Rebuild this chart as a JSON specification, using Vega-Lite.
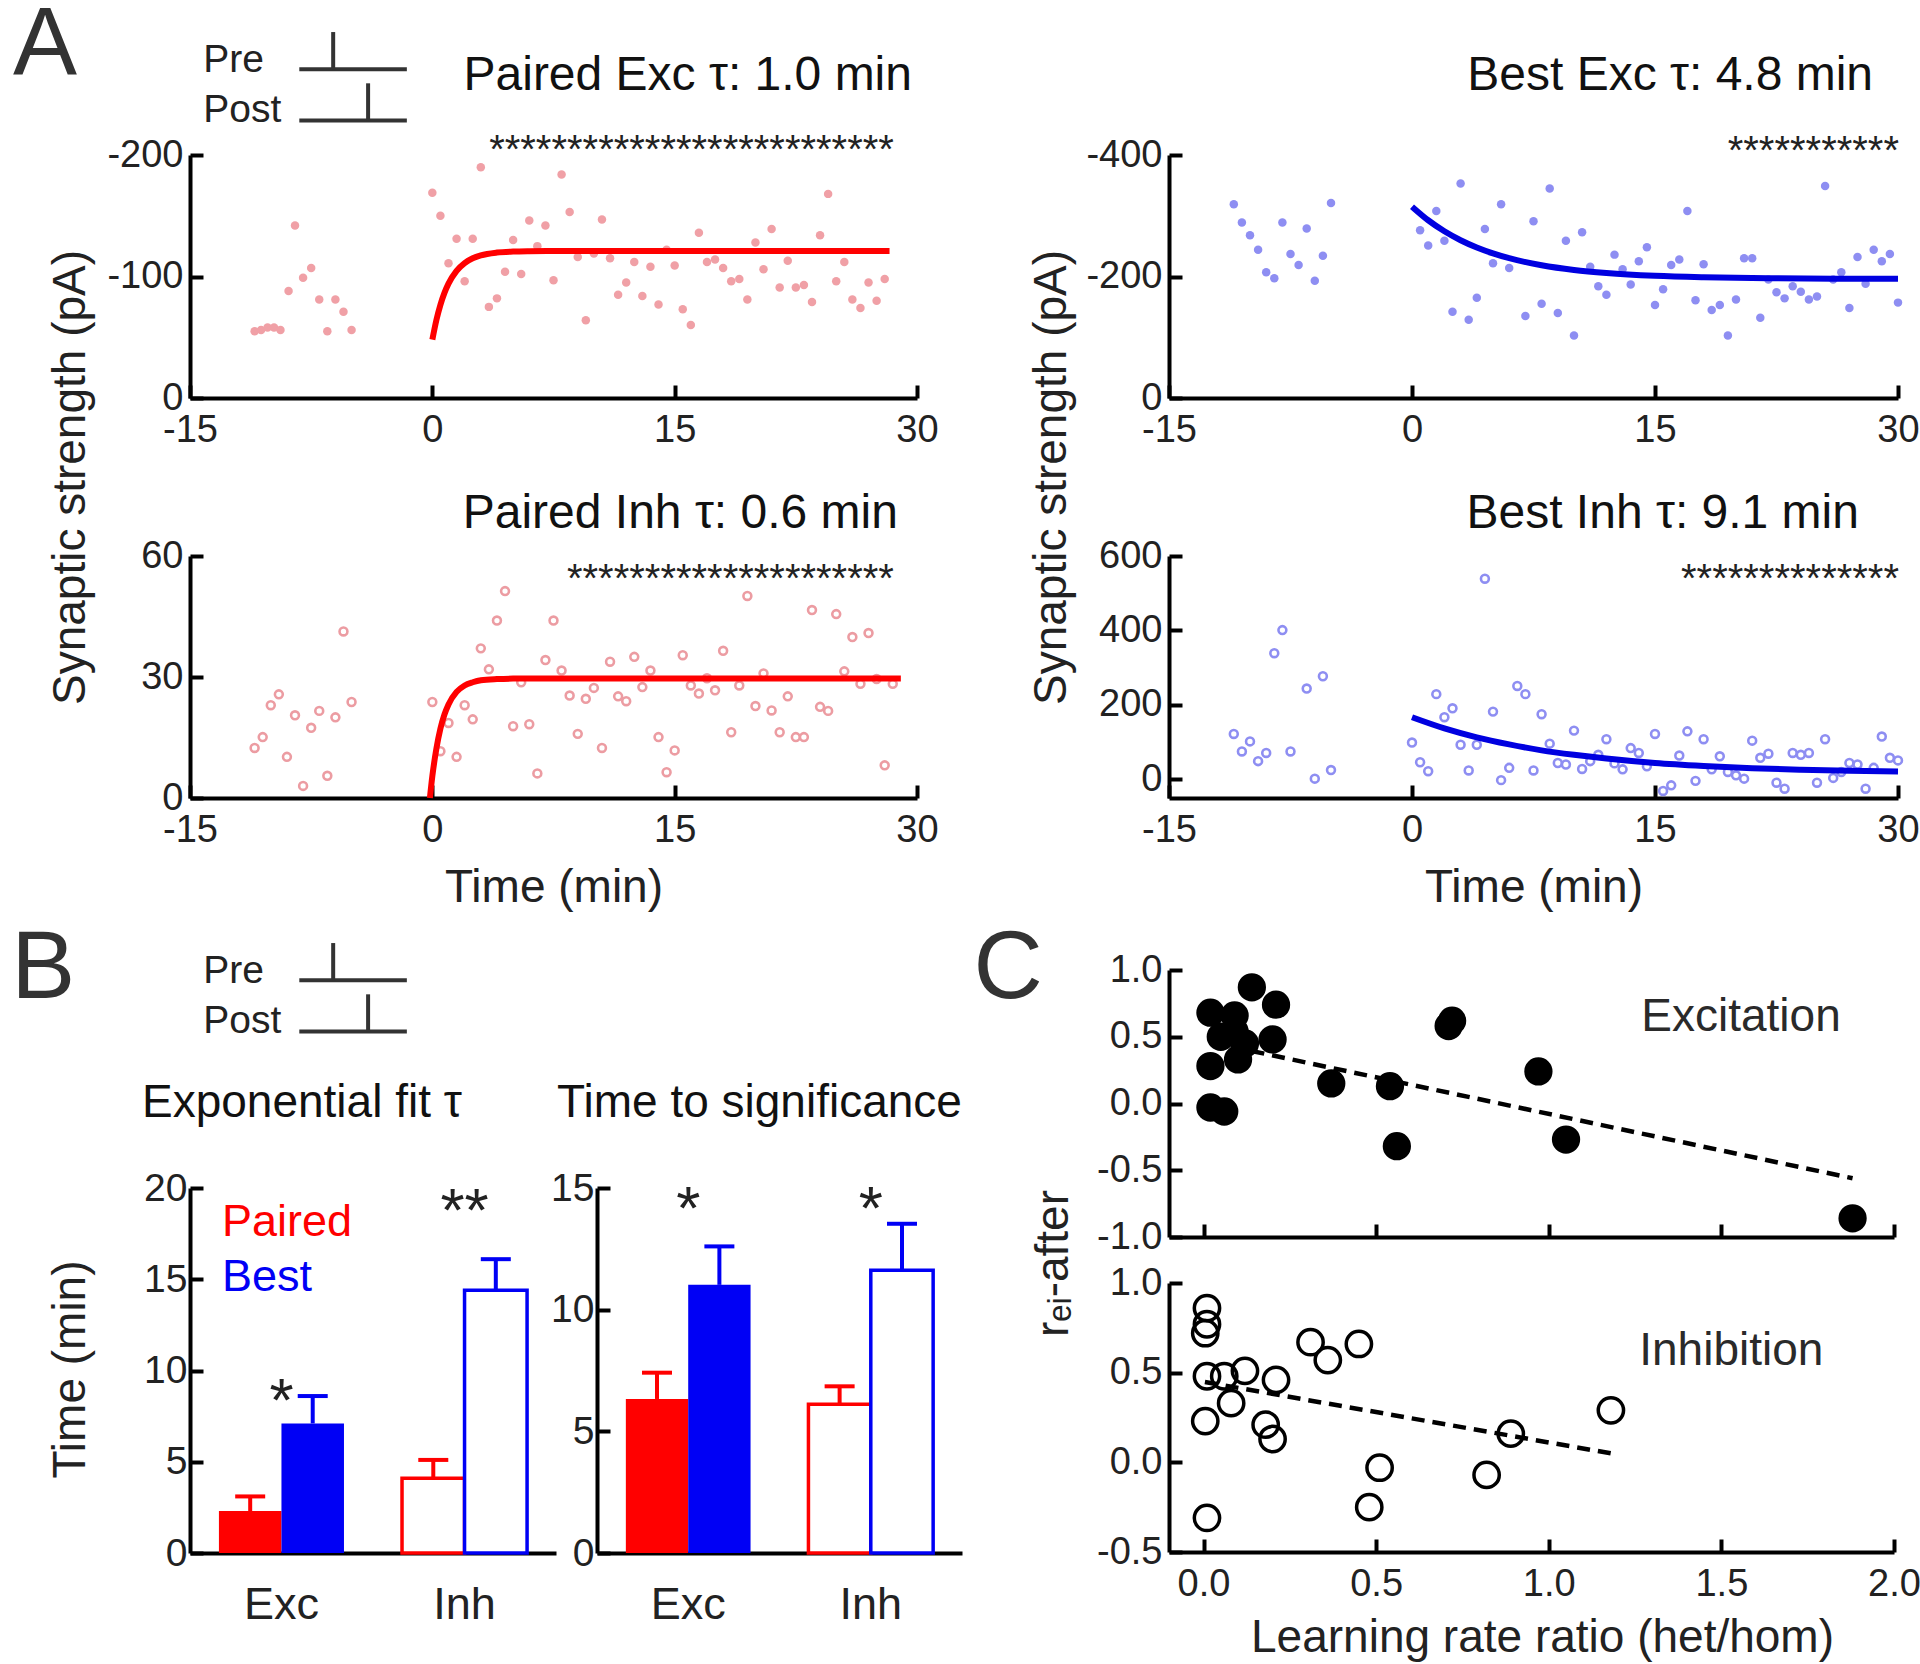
{
  "$schema": "https://vega.github.io/schema/vega-lite/v6.json",
  "width": 1920,
  "height": 1664,
  "autosize": {"type": "none"},
  "padding": 0,
  "background": "white",
  "config": {
    "font": "Liberation Sans",
    "view": {"stroke": null},
    "axis": {"grid": false, "domainColor": "#000", "domainWidth": 4, "tickColor": "#000", "tickWidth": 4, "tickSize": -13, "labelFontSize": 38, "labelColor": "#222", "labelFont": "Liberation Sans", "labelFlush": false, "labelOverlap": false, "titleFont": "Liberation Sans", "titleFontSize": 46, "titleFontWeight": "normal", "titleColor": "#222"},
    "axisX": {"labelPadding": 26, "titleAngle": 0, "titleAlign": "center", "titleBaseline": "alphabetic"},
    "axisY": {"labelPadding": 20, "titleAngle": 270, "titleAlign": "center", "titleBaseline": "alphabetic"},
    "text": {"font": "Liberation Sans"}
  },
  "datasets": {
    "sketch": [
      {"trace": "Pre", "t": -9.7, "t2": 21.1, "v": 1.5, "v2": 1.5},
      {"trace": "Pre", "t": 0, "t2": 0, "v": 1.5, "v2": 2.59},
      {"trace": "Post", "t": -9.7, "t2": 21.1, "v": 0, "v2": 0},
      {"trace": "Post", "t": 10, "t2": 10, "v": 0, "v2": 1.09}
    ],
    "sketchlab": [
      {"trace": "Pre", "t": -37.2, "v": 1.42},
      {"trace": "Post", "t": -37.2, "v": -0.04}
    ],
    "a1": [
      {"t":-11,"v":-55},{"t":-10.6,"v":-56},{"t":-10.2,"v":-58},{"t":-9.8,"v":-58},{"t":-9.4,"v":-56},{"t":-8.9,"v":-88},{"t":-8.5,"v":-142},{"t":-8,"v":-99},{"t":-7.5,"v":-107},{"t":-7,"v":-81},{"t":-6.5,"v":-55},{"t":-6,"v":-81},{"t":-5.5,"v":-71},{"t":-5,"v":-56},
      {"t":0,"v":-169},{"t":0.5,"v":-150},{"t":1,"v":-111},{"t":1.5,"v":-131},{"t":2,"v":-96},{"t":2.5,"v":-131},{"t":3,"v":-190},{"t":3.5,"v":-75},{"t":4,"v":-82},{"t":4.5,"v":-104},{"t":5,"v":-130},{"t":5.5,"v":-102},{"t":6,"v":-146},{"t":6.5,"v":-125},{"t":7,"v":-142},{"t":7.5,"v":-97},{"t":8,"v":-184},{"t":8.5,"v":-153},{"t":9,"v":-116},{"t":9.5,"v":-64},{"t":10,"v":-119},{"t":10.5,"v":-147},{"t":11,"v":-115},{"t":11.5,"v":-85},{"t":12,"v":-95},{"t":12.5,"v":-112},{"t":13,"v":-84},{"t":13.5,"v":-108},{"t":14,"v":-77},{"t":14.5,"v":-122},{"t":15,"v":-109},{"t":15.5,"v":-73},{"t":16,"v":-60},{"t":16.5,"v":-136},{"t":17,"v":-112},{"t":17.5,"v":-114},{"t":18,"v":-107},{"t":18.5,"v":-96},{"t":19,"v":-98},{"t":19.5,"v":-81},{"t":20,"v":-128},{"t":20.5,"v":-106},{"t":21,"v":-139},{"t":21.5,"v":-91},{"t":22,"v":-113},{"t":22.5,"v":-91},{"t":23,"v":-93},{"t":23.5,"v":-79},{"t":24,"v":-134},{"t":24.5,"v":-168},{"t":25,"v":-96},{"t":25.5,"v":-112},{"t":26,"v":-81},{"t":26.5,"v":-74},{"t":27,"v":-95},{"t":27.5,"v":-80},{"t":28,"v":-98}
    ],
    "a1fit": [
      {"t":0,"v":-48},{"t":0.25,"v":-64.1},{"t":0.5,"v":-76.7},{"t":0.75,"v":-86.5},{"t":1,"v":-94.1},{"t":1.5,"v":-104.7},{"t":2,"v":-111.1},{"t":2.5,"v":-115},{"t":3,"v":-117.4},{"t":4,"v":-119.7},{"t":5,"v":-120.5},{"t":6,"v":-120.8},{"t":8,"v":-121},{"t":28.3,"v":-121}
    ],
    "a2": [
      {"t":-11,"v":-319},{"t":-10.5,"v":-289},{"t":-10,"v":-268},{"t":-9.5,"v":-244},{"t":-9,"v":-207},{"t":-8.5,"v":-197},{"t":-8,"v":-289},{"t":-7.5,"v":-237},{"t":-7,"v":-219},{"t":-6.5,"v":-279},{"t":-6,"v":-193},{"t":-5.5,"v":-234},{"t":-5,"v":-321},
      {"t":0.5,"v":-276},{"t":1,"v":-251},{"t":1.5,"v":-308},{"t":2,"v":-259},{"t":2.5,"v":-142},{"t":3,"v":-353},{"t":3.5,"v":-129},{"t":4,"v":-165},{"t":4.5,"v":-278},{"t":5,"v":-222},{"t":5.5,"v":-319},{"t":6,"v":-214},{"t":7,"v":-135},{"t":7.5,"v":-291},{"t":8,"v":-155},{"t":8.5,"v":-345},{"t":9,"v":-140},{"t":9.5,"v":-259},{"t":10,"v":-103},{"t":10.5,"v":-273},{"t":11,"v":-216},{"t":11.5,"v":-184},{"t":12,"v":-170},{"t":12.5,"v":-236},{"t":13,"v":-212},{"t":13.5,"v":-187},{"t":14,"v":-225},{"t":14.5,"v":-248},{"t":15,"v":-153},{"t":15.5,"v":-179},{"t":16,"v":-219},{"t":16.5,"v":-228},{"t":17,"v":-308},{"t":17.5,"v":-161},{"t":18,"v":-220},{"t":18.5,"v":-145},{"t":19,"v":-153},{"t":19.5,"v":-103},{"t":20,"v":-162},{"t":20.5,"v":-230},{"t":21,"v":-230},{"t":21.5,"v":-132},{"t":22,"v":-195},{"t":22.5,"v":-174},{"t":23,"v":-164},{"t":23.5,"v":-184},{"t":24,"v":-175},{"t":24.5,"v":-162},{"t":25,"v":-167},{"t":25.5,"v":-349},{"t":26,"v":-195},{"t":26.5,"v":-207},{"t":27,"v":-148},{"t":27.5,"v":-232},{"t":28,"v":-188},{"t":28.5,"v":-244},{"t":29,"v":-225},{"t":29.5,"v":-237},{"t":30,"v":-157}
    ],
    "a2fit": [
      {"t":0,"v":-315},{"t":1,"v":-292.6},{"t":2,"v":-274.4},{"t":3,"v":-259.7},{"t":4,"v":-247.7},{"t":5,"v":-238},{"t":6,"v":-230.1},{"t":8,"v":-218.5},{"t":10,"v":-210.8},{"t":12,"v":-205.8},{"t":15,"v":-201.2},{"t":18,"v":-198.8},{"t":22,"v":-197.2},{"t":26,"v":-196.5},{"t":30,"v":-196.3}
    ],
    "a3": [
      {"t":-11,"v":12.4},{"t":-10.5,"v":15.1},{"t":-10,"v":23},{"t":-9.5,"v":25.7},{"t":-9,"v":10.2},{"t":-8.5,"v":20.5},{"t":-8,"v":3},{"t":-7.5,"v":17.4},{"t":-7,"v":21.6},{"t":-6.5,"v":5.5},{"t":-6,"v":20},{"t":-5.5,"v":41.3},{"t":-5,"v":23.8},
      {"t":0,"v":23.8},{"t":0.5,"v":11.6},{"t":1,"v":18.6},{"t":1.5,"v":10.2},{"t":2,"v":23},{"t":2.5,"v":19.5},{"t":3,"v":37.1},{"t":3.5,"v":31.9},{"t":4,"v":44},{"t":4.5,"v":51.3},{"t":5,"v":17.8},{"t":5.5,"v":28.7},{"t":6,"v":18.3},{"t":6.5,"v":6.1},{"t":7,"v":34.2},{"t":7.5,"v":44},{"t":8,"v":31.6},{"t":8.5,"v":25.4},{"t":9,"v":15.9},{"t":9.5,"v":24.6},{"t":10,"v":27.3},{"t":10.5,"v":12.4},{"t":11,"v":33.8},{"t":11.5,"v":25.2},{"t":12,"v":24},{"t":12.5,"v":35},{"t":13,"v":27.5},{"t":13.5,"v":31.6},{"t":14,"v":15.1},{"t":14.5,"v":6.4},{"t":15,"v":11.8},{"t":15.5,"v":35.4},{"t":16,"v":27.9},{"t":16.5,"v":25.9},{"t":17,"v":29.7},{"t":17.5,"v":26.7},{"t":18,"v":36.5},{"t":18.5,"v":16.3},{"t":19,"v":27.9},{"t":19.5,"v":50.1},{"t":20,"v":22.8},{"t":20.5,"v":30.9},{"t":21,"v":21.7},{"t":21.5,"v":16.3},{"t":22,"v":25.2},{"t":22.5,"v":15.1},{"t":23,"v":15.1},{"t":23.5,"v":46.6},{"t":24,"v":22.6},{"t":24.5,"v":21.6},{"t":25,"v":45.6},{"t":25.5,"v":31.4},{"t":26,"v":39.9},{"t":26.5,"v":28.3},{"t":27,"v":40.9},{"t":27.5,"v":29.5},{"t":28,"v":8.1},{"t":28.5,"v":28.3}
    ],
    "a3fit": [
      {"t":-0.15,"v":0},{"t":0,"v":5.4},{"t":0.25,"v":12.2},{"t":0.5,"v":17.2},{"t":0.75,"v":20.7},{"t":1,"v":23.2},{"t":1.5,"v":26.3},{"t":2,"v":27.9},{"t":2.5,"v":28.7},{"t":3,"v":29.2},{"t":4,"v":29.5},{"t":5,"v":29.6},{"t":29,"v":29.6}
    ],
    "a4": [
      {"t":-11,"v":122},{"t":-10.5,"v":75},{"t":-10,"v":102},{"t":-9.5,"v":49},{"t":-9,"v":71},{"t":-8.5,"v":339},{"t":-8,"v":401},{"t":-7.5,"v":75},{"t":-6.5,"v":244},{"t":-6,"v":2},{"t":-5.5,"v":277},{"t":-5,"v":25},
      {"t":0,"v":99},{"t":0.5,"v":46},{"t":1,"v":22},{"t":1.5,"v":229},{"t":2,"v":167},{"t":2.5,"v":191},{"t":3,"v":93},{"t":3.5,"v":24},{"t":4,"v":93},{"t":4.5,"v":539},{"t":5,"v":182},{"t":5.5,"v":-2},{"t":6,"v":31},{"t":6.5,"v":251},{"t":7,"v":229},{"t":7.5,"v":24},{"t":8,"v":175},{"t":8.5,"v":96},{"t":9,"v":44},{"t":9.5,"v":40},{"t":10,"v":131},{"t":10.5,"v":28},{"t":11,"v":49},{"t":11.5,"v":66},{"t":12,"v":108},{"t":12.5,"v":43},{"t":13,"v":27},{"t":13.5,"v":84},{"t":14,"v":71},{"t":14.5,"v":35},{"t":15,"v":122},{"t":15.5,"v":-31},{"t":16,"v":-16},{"t":16.5,"v":64},{"t":17,"v":129},{"t":17.5,"v":-4},{"t":18,"v":108},{"t":18.5,"v":27},{"t":19,"v":62},{"t":19.5,"v":20},{"t":20,"v":11},{"t":20.5,"v":2},{"t":21,"v":104},{"t":21.5,"v":58},{"t":22,"v":69},{"t":22.5,"v":-9},{"t":23,"v":-25},{"t":23.5,"v":71},{"t":24,"v":66},{"t":24.5,"v":71},{"t":25,"v":-9},{"t":25.5,"v":108},{"t":26,"v":4},{"t":26.5,"v":20},{"t":27,"v":44},{"t":27.5,"v":40},{"t":28,"v":-25},{"t":28.5,"v":31},{"t":29,"v":115},{"t":29.5,"v":58},{"t":30,"v":51}
    ],
    "a4fit": [
      {"t":0,"v":167},{"t":2,"v":137},{"t":4,"v":113},{"t":6,"v":94},{"t":8,"v":78},{"t":10,"v":66},{"t":12,"v":56},{"t":15,"v":44},{"t":18,"v":36},{"t":21,"v":30},{"t":24,"v":26},{"t":27,"v":23},{"t":30,"v":21}
    ],
    "b1": [
      {"type":"Exc","cond":"Paired","m":2.3,"hi":3.1},{"type":"Exc","cond":"Best","m":7.1,"hi":8.6},
      {"type":"Inh","cond":"Paired","m":4.1,"hi":5.1},{"type":"Inh","cond":"Best","m":14.4,"hi":16.1}
    ],
    "b2": [
      {"type":"Exc","cond":"Paired","m":6.33,"hi":7.41},{"type":"Exc","cond":"Best","m":11.02,"hi":12.6},
      {"type":"Inh","cond":"Paired","m":6.11,"hi":6.85},{"type":"Inh","cond":"Best","m":11.62,"hi":13.53}
    ],
    "c1": [
      {"x":0.02,"y":0.68},{"x":0.09,"y":0.66},{"x":0.14,"y":0.87},{"x":0.21,"y":0.74},{"x":0.05,"y":0.5},{"x":0.09,"y":0.54},{"x":0.12,"y":0.45},{"x":0.1,"y":0.33},{"x":0.2,"y":0.48},{"x":0.02,"y":0.28},{"x":0.02,"y":-0.03},{"x":0.06,"y":-0.06},{"x":0.37,"y":0.15},{"x":0.54,"y":0.13},{"x":0.56,"y":-0.32},{"x":0.71,"y":0.58},{"x":0.72,"y":0.62},{"x":0.97,"y":0.24},{"x":1.05,"y":-0.27},{"x":1.88,"y":-0.86}
    ],
    "c2": [
      {"x":0.01,"y":0.86},{"x":0.01,"y":0.77},{"x":0.005,"y":0.72},{"x":0.01,"y":0.48},{"x":0.06,"y":0.48},{"x":0.12,"y":0.51},{"x":0.21,"y":0.46},{"x":0.08,"y":0.33},{"x":0.005,"y":0.23},{"x":0.18,"y":0.21},{"x":0.2,"y":0.13},{"x":0.31,"y":0.67},{"x":0.36,"y":0.57},{"x":0.45,"y":0.66},{"x":0.51,"y":-0.03},{"x":0.48,"y":-0.25},{"x":0.01,"y":-0.31},{"x":0.82,"y":-0.07},{"x":0.89,"y":0.16},{"x":1.18,"y":0.29}
    ]
  },
  "resolve": {
    "scale": {"x": "independent", "y": "independent", "color": "independent", "xOffset": "independent"},
    "axis": {"x": "independent", "y": "independent"},
    "legend": {"color": "independent"}
  },
  "layer": [
    {
      "encoding": {
        "x": {"field": "t", "type": "quantitative", "scale": {"domain": [-41, 22], "range": [190, 410], "nice": false, "zero": false}, "axis": null},
        "y": {"field": "v", "type": "quantitative", "scale": {"domain": [-0.1, 2.65], "range": [124, 30], "nice": false, "zero": false}, "axis": null}
      },
      "layer": [
        {"data": {"name": "sketch"}, "mark": {"type": "rule", "color": "#333", "strokeWidth": 4}, "encoding": {"x2": {"field": "t2"}, "y2": {"field": "v2"}}},
        {"data": {"name": "sketchlab"}, "mark": {"type": "text", "align": "left", "baseline": "alphabetic", "fontSize": 39, "color": "#222"}, "encoding": {"text": {"field": "trace"}}},
        {"data": {"values": [{"t": -91.7, "v": 1.37, "s": "A"}]}, "mark": {"type": "text", "align": "left", "baseline": "alphabetic", "fontSize": 96, "color": "#333"}, "encoding": {"text": {"field": "s"}}}
      ]
    },
    {
      "encoding": {
        "x": {"field": "t", "type": "quantitative", "scale": {"domain": [-15, 30], "range": [190, 917], "nice": false, "zero": false}, "axis": {"orient": "bottom", "offset": -1266, "values": [-15, 0, 15, 30], "title": null, "labelExpr": "'' + datum.value"}},
        "y": {"field": "v", "type": "quantitative", "scale": {"domain": [0, -200], "range": [398, 155], "nice": false, "zero": false}, "axis": {"orient": "left", "offset": -190, "values": [-200, -100, 0], "labelExpr": "'' + datum.value", "title": "Synaptic strength (pA)", "titleX": -106, "titleY": 477}}
      },
      "layer": [
        {"data": {"name": "a1"}, "mark": {"type": "circle", "size": 72, "color": "#f0a0a6", "opacity": 1}},
        {"data": {"name": "a1fit"}, "mark": {"type": "line", "color": "#ff0000", "strokeWidth": 6, "interpolate": "monotone"}, "encoding": {}},
        {"data": {"values": [{"t": 28.57, "v": -193.4, "s": "**************************"}]}, "mark": {"type": "text", "align": "right", "baseline": "alphabetic", "fontSize": 40, "color": "#222"}, "encoding": {"text": {"field": "s"}}},
        {"data": {"values": [{"t": 29.69, "v": -253.5, "s": "Paired Exc τ: 1.0 min"}]}, "mark": {"type": "text", "align": "right", "baseline": "alphabetic", "fontSize": 48, "color": "#111"}, "encoding": {"text": {"field": "s"}}}
      ]
    },
    {
      "encoding": {
        "x": {"field": "t", "type": "quantitative", "scale": {"domain": [-15, 30], "range": [1169, 1898], "nice": false, "zero": false}, "axis": {"orient": "bottom", "offset": -1266, "values": [-15, 0, 15, 30], "title": null, "labelExpr": "'' + datum.value"}},
        "y": {"field": "v", "type": "quantitative", "scale": {"domain": [0, -400], "range": [398, 155], "nice": false, "zero": false}, "axis": {"orient": "left", "offset": -1169, "values": [-400, -200, 0], "labelExpr": "'' + datum.value", "title": "Synaptic strength (pA)", "titleX": -104, "titleY": 477}}
      },
      "layer": [
        {"data": {"name": "a2"}, "mark": {"type": "circle", "size": 72, "color": "#8e8ef2", "opacity": 1}},
        {"data": {"name": "a2fit"}, "mark": {"type": "line", "color": "#0000e0", "strokeWidth": 6, "interpolate": "monotone"}, "encoding": {}},
        {"data": {"values": [{"t": 30.06, "v": -385, "s": "***********"}]}, "mark": {"type": "text", "align": "right", "baseline": "alphabetic", "fontSize": 40, "color": "#222"}, "encoding": {"text": {"field": "s"}}},
        {"data": {"values": [{"t": 28.46, "v": -507, "s": "Best Exc τ: 4.8 min"}]}, "mark": {"type": "text", "align": "right", "baseline": "alphabetic", "fontSize": 48, "color": "#111"}, "encoding": {"text": {"field": "s"}}}
      ]
    },
    {
      "encoding": {
        "x": {"field": "t", "type": "quantitative", "scale": {"domain": [-15, 30], "range": [190, 917], "nice": false, "zero": false}, "axis": {"orient": "bottom", "offset": -866, "values": [-15, 0, 15, 30], "labelExpr": "'' + datum.value", "title": "Time (min)", "titleX": 553.5, "titleY": 103}},
        "y": {"field": "v", "type": "quantitative", "scale": {"domain": [0, 60], "range": [798, 556], "nice": false, "zero": false}, "axis": {"orient": "left", "offset": -190, "values": [0, 30, 60], "title": null}}
      },
      "layer": [
        {"data": {"name": "a3"}, "mark": {"type": "point", "shape": "circle", "filled": false, "size": 62, "strokeWidth": 2.6, "color": "#ec9ca2", "opacity": 1}},
        {"data": {"name": "a3fit"}, "mark": {"type": "line", "color": "#ff0000", "strokeWidth": 6, "interpolate": "monotone"}, "encoding": {}},
        {"data": {"values": [{"t": 28.57, "v": 51.1, "s": "*********************"}]}, "mark": {"type": "text", "align": "right", "baseline": "alphabetic", "fontSize": 40, "color": "#222"}, "encoding": {"text": {"field": "s"}}},
        {"data": {"values": [{"t": 28.82, "v": 66.9, "s": "Paired Inh τ: 0.6 min"}]}, "mark": {"type": "text", "align": "right", "baseline": "alphabetic", "fontSize": 48, "color": "#111"}, "encoding": {"text": {"field": "s"}}}
      ]
    },
    {
      "encoding": {
        "x": {"field": "t", "type": "quantitative", "scale": {"domain": [-15, 30], "range": [1169, 1898], "nice": false, "zero": false}, "axis": {"orient": "bottom", "offset": -866, "values": [-15, 0, 15, 30], "labelExpr": "'' + datum.value", "title": "Time (min)", "titleX": 1533.5, "titleY": 103}},
        "y": {"field": "v", "type": "quantitative", "scale": {"domain": [-50, 600], "range": [798, 556], "nice": false, "zero": false}, "axis": {"orient": "left", "offset": -1169, "values": [0, 200, 400, 600], "title": null}}
      },
      "layer": [
        {"data": {"name": "a4"}, "mark": {"type": "point", "shape": "circle", "filled": false, "size": 62, "strokeWidth": 2.6, "color": "#8e8ef2", "opacity": 1}},
        {"data": {"name": "a4fit"}, "mark": {"type": "line", "color": "#0000e0", "strokeWidth": 6, "interpolate": "monotone"}, "encoding": {}},
        {"data": {"values": [{"t": 30.06, "v": 503.3, "s": "**************"}]}, "mark": {"type": "text", "align": "right", "baseline": "alphabetic", "fontSize": 40, "color": "#222"}, "encoding": {"text": {"field": "s"}}},
        {"data": {"values": [{"t": 27.59, "v": 675.2, "s": "Best Inh τ: 9.1 min"}]}, "mark": {"type": "text", "align": "right", "baseline": "alphabetic", "fontSize": 48, "color": "#111"}, "encoding": {"text": {"field": "s"}}}
      ]
    },
    {
      "encoding": {
        "x": {"field": "t", "type": "quantitative", "scale": {"domain": [-41, 22], "range": [190, 410], "nice": false, "zero": false}, "axis": null},
        "y": {"field": "v", "type": "quantitative", "scale": {"domain": [-0.1, 2.65], "range": [1035, 941], "nice": false, "zero": false}, "axis": null}
      },
      "layer": [
        {"data": {"name": "sketch"}, "mark": {"type": "rule", "color": "#333", "strokeWidth": 4}, "encoding": {"x2": {"field": "t2"}, "y2": {"field": "v2"}}},
        {"data": {"name": "sketchlab"}, "mark": {"type": "text", "align": "left", "baseline": "alphabetic", "fontSize": 39, "color": "#222"}, "encoding": {"text": {"field": "trace"}}},
        {"data": {"values": [{"t": -92.2, "v": 0.98, "s": "B"}]}, "mark": {"type": "text", "align": "left", "baseline": "alphabetic", "fontSize": 96, "color": "#333"}, "encoding": {"text": {"field": "s"}}}
      ]
    },
    {
      "data": {"name": "b1"},
      "encoding": {
        "x": {"field": "type", "type": "nominal", "sort": ["Exc", "Inh"], "scale": {"range": [190, 556], "paddingInner": 0.317, "paddingOuter": 0.158}, "axis": {"orient": "bottom", "offset": -111, "title": null, "ticks": false, "labelAngle": 0, "labelFontSize": 45, "labelPadding": 29}},
        "y": {"field": "m", "type": "quantitative", "scale": {"domain": [0, 20], "range": [1553, 1188], "nice": false}, "axis": {"orient": "left", "offset": -190, "values": [0, 5, 10, 15, 20], "labelFontSize": 39, "labelPadding": 16, "title": "Time (min)", "titleX": -106, "titleY": 1369}},
        "color": {"field": "cond", "type": "nominal", "scale": {"domain": ["Paired", "Best"], "range": ["#ff0000", "#0000f5"]},
          "legend": {"orient": "none", "legendX": 177, "legendY": 1199, "title": null, "padding": 0, "symbolSize": 0, "symbolStrokeWidth": 0, "symbolOpacity": 0, "labelFontSize": 45, "labelFont": "Liberation Sans", "labelOffset": 0, "rowPadding": 9, "labelLimit": 400,
            "encode": {"labels": {"update": {"fill": [{"test": "datum.value === 'Paired'", "value": "#ff0000"}, {"value": "#0000f5"}]}}}}}
      },
      "layer": [
        {"transform": [{"filter": "datum.type === 'Exc'"}], "mark": {"type": "bar"}, "encoding": {"xOffset": {"field": "cond", "type": "nominal", "sort": ["Paired", "Best"], "scale": {"paddingInner": 0, "paddingOuter": 0}}}},
        {"transform": [{"filter": "datum.type === 'Inh'"}], "mark": {"type": "bar", "filled": false, "fill": "white", "strokeWidth": 3.5}, "encoding": {"xOffset": {"field": "cond", "type": "nominal", "sort": ["Paired", "Best"], "scale": {"paddingInner": 0, "paddingOuter": 0}}}},
        {"mark": {"type": "rule", "strokeWidth": 4}, "encoding": {"xOffset": {"field": "cond", "type": "nominal", "sort": ["Paired", "Best"], "scale": {"paddingInner": 0, "paddingOuter": 0}}, "y2": {"field": "hi"}}},
        {"mark": {"type": "tick", "thickness": 4, "size": 30, "opacity": 1}, "encoding": {"xOffset": {"field": "cond", "type": "nominal", "sort": ["Paired", "Best"], "scale": {"paddingInner": 0, "paddingOuter": 0}}, "y": {"field": "hi", "type": "quantitative", "axis": {"orient": "left", "offset": -190, "values": [0, 5, 10, 15, 20], "labelFontSize": 39, "labelPadding": 16, "title": "Time (min)", "titleX": -106, "titleY": 1369}}}},
        {"data": {"values": [{"type": "Exc", "m": 7.23, "s": "*"}, {"type": "Inh", "m": 17.64, "s": "**"}]}, "mark": {"type": "text", "fontSize": 62, "baseline": "alphabetic", "align": "center"}, "encoding": {"text": {"field": "s"}, "color": {"value": "#222"}}},
        {"data": {"values": [{"type": "Exc", "m": 23.9, "s": "Exponential fit τ"}]}, "mark": {"type": "text", "align": "left", "baseline": "alphabetic", "fontSize": 46, "dx": -139.5}, "encoding": {"text": {"field": "s"}, "color": {"value": "#111"}}}
      ]
    },
    {
      "data": {"name": "b2"},
      "encoding": {
        "x": {"field": "type", "type": "nominal", "sort": ["Exc", "Inh"], "scale": {"range": [597, 962], "paddingInner": 0.317, "paddingOuter": 0.158}, "axis": {"orient": "bottom", "offset": -111, "title": null, "ticks": false, "labelAngle": 0, "labelFontSize": 45, "labelPadding": 29}},
        "y": {"field": "m", "type": "quantitative", "scale": {"domain": [0, 15], "range": [1553, 1188], "nice": false}, "axis": {"orient": "left", "offset": -597, "values": [0, 5, 10, 15], "labelFontSize": 39, "labelPadding": 16, "title": null}},
        "color": {"field": "cond", "type": "nominal", "scale": {"domain": ["Paired", "Best"], "range": ["#ff0000", "#0000f5"]}, "legend": null}
      },
      "layer": [
        {"transform": [{"filter": "datum.type === 'Exc'"}], "mark": {"type": "bar"}, "encoding": {"xOffset": {"field": "cond", "type": "nominal", "sort": ["Paired", "Best"], "scale": {"paddingInner": 0, "paddingOuter": 0}}}},
        {"transform": [{"filter": "datum.type === 'Inh'"}], "mark": {"type": "bar", "filled": false, "fill": "white", "strokeWidth": 3.5}, "encoding": {"xOffset": {"field": "cond", "type": "nominal", "sort": ["Paired", "Best"], "scale": {"paddingInner": 0, "paddingOuter": 0}}}},
        {"mark": {"type": "rule", "strokeWidth": 4}, "encoding": {"xOffset": {"field": "cond", "type": "nominal", "sort": ["Paired", "Best"], "scale": {"paddingInner": 0, "paddingOuter": 0}}, "y2": {"field": "hi"}}},
        {"mark": {"type": "tick", "thickness": 4, "size": 30, "opacity": 1}, "encoding": {"xOffset": {"field": "cond", "type": "nominal", "sort": ["Paired", "Best"], "scale": {"paddingInner": 0, "paddingOuter": 0}}, "y": {"field": "hi", "type": "quantitative", "axis": {"orient": "left", "offset": -597, "values": [0, 5, 10, 15], "labelFontSize": 39, "labelPadding": 16, "title": null}}}},
        {"data": {"values": [{"type": "Exc", "m": 13.3, "s": "*"}, {"type": "Inh", "m": 13.3, "s": "*"}]}, "mark": {"type": "text", "fontSize": 62, "baseline": "alphabetic", "align": "center"}, "encoding": {"text": {"field": "s"}, "color": {"value": "#222"}}},
        {"data": {"values": [{"type": "Inh", "m": 17.92, "s": "Time to significance"}]}, "mark": {"type": "text", "align": "right", "baseline": "alphabetic", "fontSize": 46, "dx": 91.1}, "encoding": {"text": {"field": "s"}, "color": {"value": "#111"}}}
      ]
    },
    {
      "encoding": {
        "x": {"field": "x", "type": "quantitative", "scale": {"domain": [-0.1, 2], "range": [1169, 1894], "nice": false, "zero": false}, "axis": {"orient": "bottom", "offset": -427, "values": [0, 0.5, 1, 1.5, 2], "labels": false, "title": null}},
        "y": {"field": "y", "type": "quantitative", "scale": {"domain": [-1, 1], "range": [1237, 970], "nice": false, "zero": false}, "axis": {"orient": "left", "offset": -1169, "values": [-1, -0.5, 0, 0.5, 1], "labelExpr": "(datum.value < 0 ? '-' : '') + format(abs(datum.value), '.1f')", "title": "rₑᵢ-after", "titleX": -102, "titleY": 1263}}
      },
      "layer": [
        {"data": {"values": [{"x": 0.02, "y": 0.459}, {"x": 1.88, "y": -0.56}]}, "mark": {"type": "line", "color": "#000", "strokeWidth": 4.5, "strokeDash": [13, 8]}, "encoding": {}},
        {"data": {"name": "c1"}, "mark": {"type": "circle", "size": 800, "color": "#000", "opacity": 1}},
        {"data": {"values": [{"x": 1.268, "y": 0.543, "s": "Excitation"}]}, "mark": {"type": "text", "align": "left", "baseline": "alphabetic", "fontSize": 46, "color": "#2a2a2a"}, "encoding": {"text": {"field": "s"}}},
        {"data": {"values": [{"x": -0.666, "y": 0.79, "s": "C"}]}, "mark": {"type": "text", "align": "left", "baseline": "alphabetic", "fontSize": 96, "color": "#333"}, "encoding": {"text": {"field": "s"}}}
      ]
    },
    {
      "encoding": {
        "x": {"field": "x", "type": "quantitative", "scale": {"domain": [-0.1, 2], "range": [1169, 1894], "nice": false, "zero": false}, "axis": {"orient": "bottom", "offset": -112, "values": [0, 0.5, 1, 1.5, 2], "labelExpr": "format(datum.value, '.1f')", "title": "Learning rate ratio (het/hom)", "titleX": 1542, "titleY": 99}},
        "y": {"field": "y", "type": "quantitative", "scale": {"domain": [-0.5, 1], "range": [1552, 1283], "nice": false, "zero": false}, "axis": {"orient": "left", "offset": -1169, "values": [-0.5, 0, 0.5, 1], "labelExpr": "(datum.value < 0 ? '-' : '') + format(abs(datum.value), '.1f')", "title": null}}
      },
      "layer": [
        {"data": {"values": [{"x": 0.004, "y": 0.448}, {"x": 1.18, "y": 0.05}]}, "mark": {"type": "line", "color": "#000", "strokeWidth": 4.5, "strokeDash": [13, 8]}, "encoding": {}},
        {"data": {"name": "c2"}, "mark": {"type": "point", "shape": "circle", "filled": false, "size": 640, "strokeWidth": 3.5, "color": "#000", "opacity": 1}},
        {"data": {"values": [{"x": 1.262, "y": 0.543, "s": "Inhibition"}]}, "mark": {"type": "text", "align": "left", "baseline": "alphabetic", "fontSize": 46, "color": "#2a2a2a"}, "encoding": {"text": {"field": "s"}}}
      ]
    }
  ]
}
